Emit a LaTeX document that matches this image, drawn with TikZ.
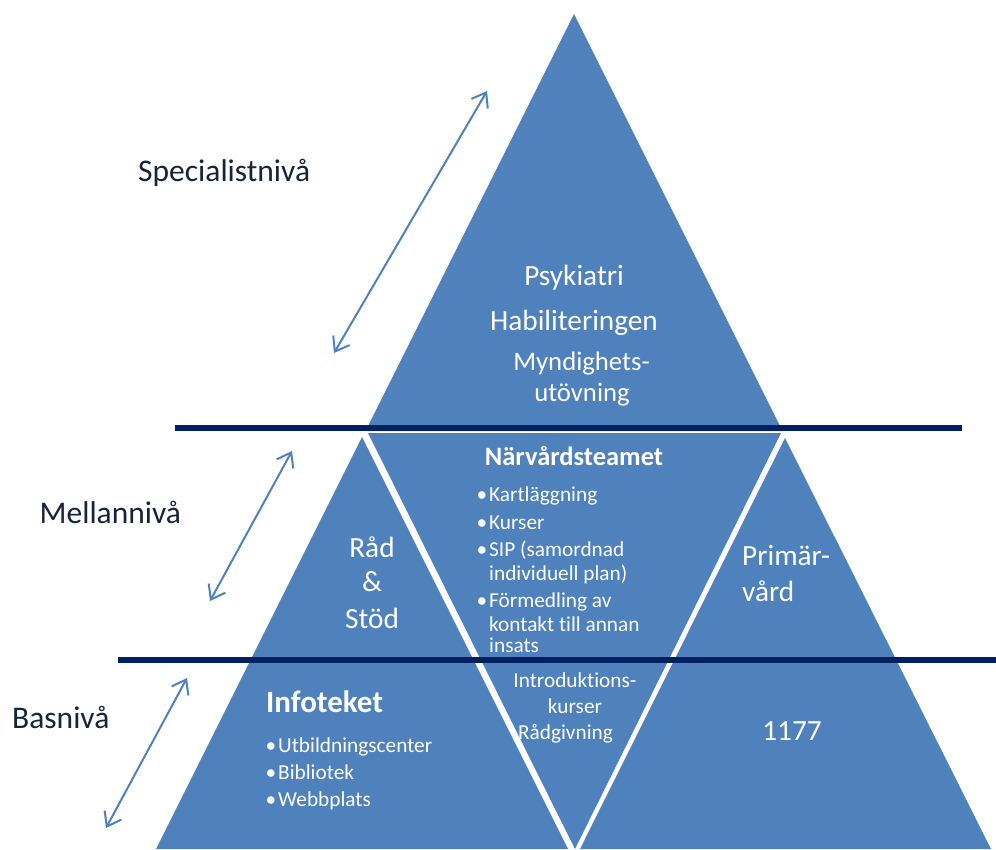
\documentclass[tikz,border=0pt]{standalone}
\usepackage{fontspec}
\setmainfont{Carlito}[Ligatures=NoCommon]
\usetikzlibrary{arrows.meta}
\definecolor{triblue}{HTML}{4F81BD}
\definecolor{navyline}{HTML}{002060}
\definecolor{labeltext}{HTML}{17233D}
\newcommand\myfs[1]{\fontsize{#1}{#1}\selectfont}
\newcommand\bul{\llap{•\hspace{2pt}}}
\tikzset{
  tri/.style={fill=triblue, draw=none},
  sepline/.style={draw=navyline, line width=6pt},
  dbl/.style={draw=triblue, line width=2pt,
    {Straight Barb[length=13pt,width=19pt]}-{Straight Barb[length=13pt,width=19pt]}},
  lvl/.style={font=\myfs{31.5}, text=labeltext, anchor=base west, inner sep=0pt},
  bigw/.style={font=\myfs{29.3}, text=white, anchor=base, inner sep=0pt},
  midw/.style={font=\myfs{26.7}, text=white, anchor=base, inner sep=0pt},
  bigwl/.style={font=\myfs{29.3}, text=white, anchor=base west, inner sep=0pt},
  smallw/.style={font=\myfs{21.3}, text=white, anchor=base west, inner sep=0pt},
  smallc/.style={font=\myfs{21.3}, text=white, anchor=base, inner sep=0pt},
  headw/.style={font=\bfseries\myfs{26.5}, text=white, anchor=base, inner sep=0pt},
  headwl/.style={font=\bfseries\myfs{31}, text=white, anchor=base west, inner sep=0pt},
}
\begin{document}
\begin{tikzpicture}[x=1pt,y=-1pt]
\useasboundingbox (0,0) rectangle (996,849);
% triangles
\path[tri] (574,14) -- (365.5,431) -- (782.5,431) -- cycle;
\path[tri] (368,433) -- (781,433) -- (575,849) -- cycle;
\path[tri] (362,437) -- (156,849) -- (568,849) -- cycle;
\path[tri] (785,438) -- (580,849) -- (991,849) -- cycle;
% separator lines
\coordinate (s1a) at (175,428);
\coordinate (s1b) at (962,428);
\coordinate (s2a) at (118,660);
\coordinate (s2b) at (996,660);
\draw[sepline] (s1a) -- (s1b);
\draw[sepline] (s2a) -- (s2b);
% arrows
\coordinate (a1t) at (487,91);
\coordinate (a1b) at (334,353);
\coordinate (a2t) at (292,451);
\coordinate (a2b) at (210,601);
\coordinate (a3t) at (187,678);
\coordinate (a3b) at (106,828);
\draw[dbl] (a1b) -- (a1t);
\draw[dbl] (a2b) -- (a2t);
\draw[dbl] (a3b) -- (a3t);
% level labels
\node[lvl] (spec) at (138,181.5) {Specialistnivå};
\node[lvl] (mell) at (39.5,523.5) {Mellannivå};
\node[lvl] (bas) at (12,728) {Basnivå};
% top triangle
\node[bigw] (psy) at (574,285.7) {Psykiatri};
\node[bigw] (hab) at (574,330) {Habiliteringen};
\node[midw] (myn1) at (581.5,370) {Myndighets-};
\node[midw] (myn2) at (582,401.7) {utövning};
% Råd & Stöd
\node[bigw] (rad) at (372,557.5) {Råd};
\node[bigw] (amp) at (372,591.5) {\&};
\node[bigw] (stod) at (372,628.5) {Stöd};
% Närvårdsteamet
\node[headw] (narv) at (574,465) {Närvårdsteamet};
\node[smallw] (n1) at (489,501.7) {\bul Kartläggning};
\node[smallw] (n2) at (489,529.3) {\bul Kurser};
\node[smallw] (n3a) at (489,556.7) {\bul SIP (samordnad};
\node[smallw] (n3b) at (489,580) {individuell plan)};
\node[smallw] (n4a) at (489,607.3) {\bul Förmedling av};
\node[smallw] (n4b) at (489,631) {kontakt till annan};
\node[smallw] (n4c) at (489,652.7) {insats};
% Primärvård
\node[bigwl] (prim1) at (742,565) {Primär-};
\node[bigwl] (prim2) at (742,601.7) {vård};
% Infoteket
\node[headwl] (info) at (266,712) {Infoteket};
\node[smallw] (i1) at (278,752.3) {\bul Utbildningscenter};
\node[smallw] (i2) at (278,779.3) {\bul Bibliotek};
\node[smallw] (i3) at (278,806.7) {\bul Webbplats};
% middle bottom
\node[smallc] (intro1) at (575,687.3) {Introduktions-};
\node[smallc] (intro2) at (575,713.3) {kurser};
\node[smallc] (intro3) at (565.5,739.3) {Rådgivning};
% 1177
\node[bigw] (n1177) at (792,740) {1177};
\end{tikzpicture}
\end{document}
